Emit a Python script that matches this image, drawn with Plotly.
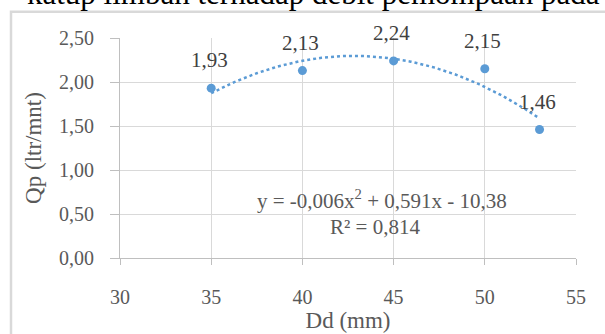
import numpy as np
import plotly.graph_objects as go

# Data
dd_mm = [35, 40, 45, 50, 53]
qp = [1.93, 2.13, 2.24, 2.15, 1.46]
qp_labels = ["1,93", "2,13", "2,24", "2,15", "1,46"]
x_ticks = [30, 35, 40, 45, 50, 55]
y_ticks = [0.0, 0.5, 1.0, 1.5, 2.0, 2.5]
y_tick_labels = ["0,00", "0,50", "1,00", "1,50", "2,00", "2,50"]
equation = "y = -0,006x<sup>2</sup> + 0,591x - 10,38"
r2_text = "R² = 0,814"
caption = "katup limbah terhadap debit pemompaan pada"

BLUE = "#5B9BD5"
GRID = "#D9D9D9"
TXT = "#595959"
FONT = "Liberation Serif"

# polynomial (order 2) trendline fitted to the data, as Excel does
coef = np.polyfit(dd_mm, qp, 2)
xt = np.linspace(min(dd_mm), max(dd_mm), 200)
yt = np.polyval(coef, xt)

fig = go.Figure()
fig.add_trace(go.Scatter(x=xt, y=yt, mode="lines",
                         line=dict(color=BLUE, width=2.5, dash="dot"),
                         hoverinfo="skip", showlegend=False))
fig.add_trace(go.Scatter(x=dd_mm, y=qp, mode="markers",
                         marker=dict(color=BLUE, size=9),
                         showlegend=False))

for xv, yv, lab in zip(dd_mm, qp, qp_labels):
    fig.add_annotation(x=xv, y=yv, text=lab, showarrow=False,
                       yshift=28, xshift=-2,
                       font=dict(family=FONT, size=21, color="#404040"))

fig.add_annotation(x=44.36, y=0.67, text=equation, showarrow=False,
                   font=dict(family=FONT, size=21, color=TXT))
fig.add_annotation(x=43.97, y=0.35, text=r2_text, showarrow=False,
                   font=dict(family=FONT, size=21, color=TXT))

# document caption text (cut off at top) and chart frame
fig.add_annotation(xref="paper", yref="paper", x=(25 - 120) / 456, y=(258.3 + 6) / 220,
                   xanchor="left", yanchor="middle", text=caption, showarrow=False,
                   font=dict(family=FONT, size=31, color="#000000"))
fig.add_shape(type="rect", xref="paper", yref="paper",
              x0=(11 - 120) / 456, x1=1.3, y0=-0.6, y1=(258.3 - 12) / 220,
              line=dict(color="#D9D9D9", width=2.5), fillcolor="rgba(0,0,0,0)", layer="below")

fig.update_xaxes(range=[30, 55], tickvals=x_ticks, ticktext=[str(v) for v in x_ticks],
                 showgrid=True, gridcolor=GRID, gridwidth=1,
                 showline=True, linecolor="#BFBFBF", linewidth=1,
                 ticks="outside", ticklen=6, tickcolor="#BFBFBF",
                 ticklabelstandoff=15, automargin=False,
                 zeroline=False,
                 tickfont=dict(family=FONT, size=20, color=TXT),
                 title=dict(text="Dd (mm)", font=dict(family=FONT, size=23, color=TXT), standoff=0))
fig.update_yaxes(range=[0, 2.5], tickvals=y_ticks, ticktext=y_tick_labels,
                 showgrid=True, gridcolor=GRID, gridwidth=1,
                 showline=True, linecolor="#BFBFBF", linewidth=1,
                 ticks="outside", ticklen=9, tickcolor="#BFBFBF",
                 ticklabelstandoff=12, automargin=False,
                 zeroline=False,
                 tickfont=dict(family=FONT, size=20, color=TXT),
                 title=dict(text="Qp (ltr/mnt)", font=dict(family=FONT, size=23, color=TXT), standoff=10))

fig.update_layout(width=605, height=334,
                  margin=dict(l=120, r=29, t=38, b=76),
                  plot_bgcolor="white", paper_bgcolor="white")

fig.write_html("out.html")
